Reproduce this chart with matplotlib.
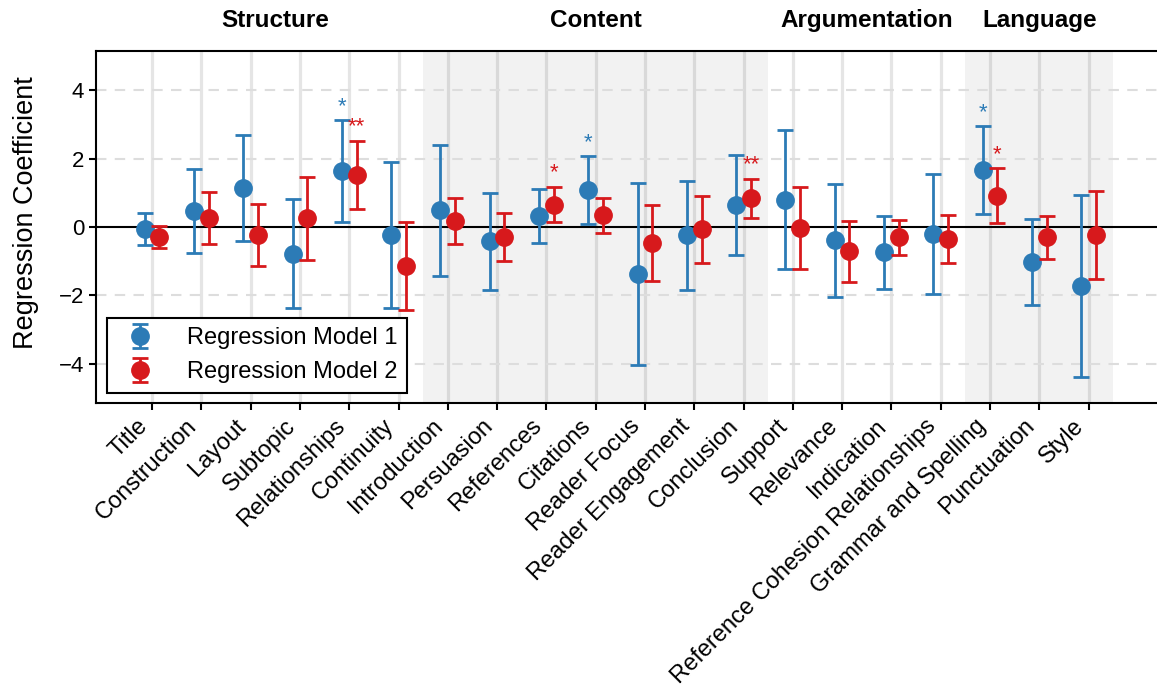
import matplotlib.pyplot as plt
import numpy as np

plt.rcParams['font.family'] = ['Liberation Sans', 'DejaVu Sans']

# Writing criteria and the group each one belongs to
criteria = ['Title', 'Construction', 'Layout', 'Subtopic', 'Relationships', 'Continuity',
            'Introduction', 'Persuasion', 'References', 'Citations', 'Reader Focus',
            'Reader Engagement', 'Conclusion', 'Support', 'Relevance', 'Indication',
            'Reference Cohesion Relationships', 'Grammar and Spelling', 'Punctuation', 'Style']
groups = ['Structure', 'Content', 'Argumentation', 'Language']
group_sizes = [6, 7, 4, 3]
shaded_groups = ['Content', 'Language']

# Regression Model 1: coefficient and half-width of the interval
coef1 = [-0.05, 0.47, 1.14, -0.78, 1.64, -0.24, 0.49, -0.41, 0.32, 1.08,
         -1.37, -0.24, 0.65, 0.80, -0.39, -0.74, -0.21, 1.66, -1.02, -1.72]
err1 = [0.47, 1.23, 1.55, 1.60, 1.48, 2.14, 1.91, 1.42, 0.78, 0.99,
        2.66, 1.59, 1.46, 2.03, 1.66, 1.07, 1.75, 1.29, 1.25, 2.66]
sig1 = ['', '', '', '', '*', '', '', '', '', '*',
        '', '', '', '', '', '', '', '*', '', '']

# Regression Model 2
coef2 = [-0.29, 0.27, -0.22, 0.26, 1.53, -1.15, 0.17, -0.29, 0.66, 0.34,
         -0.46, -0.07, 0.84, -0.02, -0.71, -0.30, -0.34, 0.92, -0.30, -0.22]
err2 = [0.31, 0.77, 0.91, 1.22, 0.99, 1.29, 0.67, 0.70, 0.52, 0.50,
        1.12, 0.98, 0.57, 1.20, 0.89, 0.51, 0.70, 0.80, 0.62, 1.29]
sig2 = ['', '', '', '', '**', '', '', '', '*', '',
        '', '', '**', '', '', '', '', '*', '', '']

blue = '#2c7bb6'
red = '#d7191c'

x = np.arange(len(criteria))
offset = 0.15

fig = plt.figure(figsize=(11.57, 6.95), dpi=100)
ax = fig.add_axes([0.083, 0.42, 0.92, 0.5065])

# shaded bands for alternating groups + group titles
start = 0
for name, size in zip(groups, group_sizes):
    lo, hi = start - 0.5, start + size - 0.5
    if name in shaded_groups:
        ax.axvspan(lo, hi, color='#f2f2f2', zorder=0, lw=0)
    ax.text((lo + hi) / 2, 1.088, name, transform=ax.get_xaxis_transform(),
            ha='center', va='center', fontsize=17.5, fontweight='bold')
    start += size

# grid
for xi in x:
    ax.axvline(xi, color='k', alpha=0.1, lw=2.3, zorder=0.5)
for yv in [-4, -2, 2, 4]:
    ax.axhline(yv, color='#dddddd', lw=1.5, ls=(0, (5, 4)), zorder=0.5)
ax.axhline(0, color='black', lw=1.5, zorder=1)

ax.errorbar(x - offset, coef1, yerr=err1, fmt='o', color=blue, ms=12.5,
            elinewidth=2, capsize=6, capthick=2, label='Regression Model 1', zorder=3)
ax.errorbar(x + offset, coef2, yerr=err2, fmt='o', color=red, ms=12.5,
            elinewidth=2, capsize=6, capthick=2, label='Regression Model 2', zorder=4)

# significance stars
for i in range(len(criteria)):
    if sig1[i]:
        ax.text(x[i] - offset, coef1[i] + err1[i] + 0.1, sig1[i], color=blue,
                ha='center', va='bottom', fontsize=16)
    if sig2[i]:
        ax.text(x[i] + offset, coef2[i] + err2[i] + 0.1, sig2[i], color=red,
                ha='center', va='bottom', fontsize=16)

ax.set_xlim(-1.137, 20.46)
ax.set_ylim(-5.15, 5.15)
ax.set_xticks(x)
ax.set_xticklabels(criteria, rotation=45, ha='right', fontsize=17)
ax.set_yticks([-4, -2, 0, 2, 4])
ax.tick_params(axis='y', labelsize=16, width=1.5, length=5)
ax.tick_params(axis='x', width=1.5, length=5)
ax.set_ylabel('Regression Coefficient', fontsize=19.5)
ax.yaxis.set_label_coords(-0.054, 0.54)

for side in ['left', 'bottom', 'top']:
    ax.spines[side].set_linewidth(1.5)
ax.spines['right'].set_visible(False)

leg = ax.legend(loc='lower left', bbox_to_anchor=(0.01, 0.03), borderaxespad=0,
                fontsize=17, fancybox=False, framealpha=1, edgecolor='black',
                handletextpad=1.0)
leg.get_frame().set_linewidth(1.5)

plt.savefig('out.png', dpi=100)
